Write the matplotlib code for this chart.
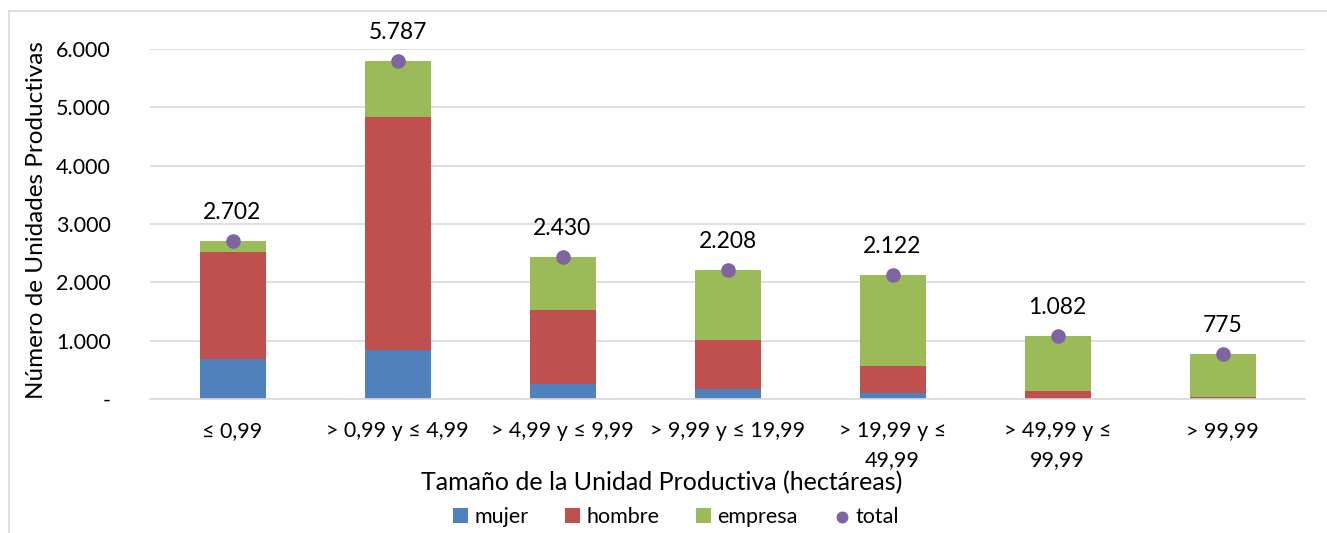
import matplotlib.pyplot as plt
import numpy as np
from matplotlib.lines import Line2D

plt.rcParams['font.family'] = ['Lato', 'DejaVu Sans']

categorias = ["≤ 0,99", "> 0,99 y ≤ 4,99", "> 4,99 y ≤ 9,99", "> 9,99 y ≤ 19,99",
              "> 19,99 y ≤\n49,99", "> 49,99 y ≤\n99,99", "> 99,99"]
mujer = [690, 845, 257, 171, 95, 10, 4]
hombre = [1828, 3990, 1269, 843, 468, 127, 26]
total = [2702, 5787, 2430, 2208, 2122, 1082, 775]
empresa = [t - m - h for t, m, h in zip(total, mujer, hombre)]

c_mujer = "#4F81BD"
c_hombre = "#C0504D"
c_empresa = "#9BBB59"
c_total = "#8064A2"

fig = plt.figure(figsize=(13.27, 5.33), dpi=100)
ax = fig.add_axes([150 / 1327, 1 - 399 / 533, 1155 / 1327, 350 / 533])

x = np.arange(len(categorias))
w = 0.4
b1 = ax.bar(x, mujer, w, color=c_mujer, label="mujer", zorder=2)
b2 = ax.bar(x, hombre, w, bottom=mujer, color=c_hombre, label="hombre", zorder=2)
base = np.array(mujer) + np.array(hombre)
b3 = ax.bar(x, empresa, w, bottom=base, color=c_empresa, label="empresa", zorder=2)
sc = ax.scatter(x, total, s=90, color=c_total, zorder=3, label="total")

for xi, t in zip(x, total):
    ax.annotate(f"{t:,}".replace(",", "."), (xi, t), xytext=(0, 13),
                textcoords="offset points", ha="center", va="bottom", fontsize=16.5)

ax.set_xlim(-0.5, len(categorias) - 0.5)
ax.set_ylim(0, 6000)
ax.set_yticks(range(0, 6001, 1000))
ax.set_yticklabels(["-"] + [f"{v:,}".replace(",", ".") for v in range(1000, 6001, 1000)])
ax.set_xticks(x)
ax.set_xticklabels(categorias, va="top", linespacing=1.55)
ax.tick_params(axis="both", length=0, labelsize=15.5, colors="#000000")
ax.tick_params(axis="y", pad=28)
ax.tick_params(axis="x", pad=16)
ax.grid(axis="y", color="#D9D9D9", linewidth=1.2, zorder=0)
for s in ["top", "right", "left"]:
    ax.spines[s].set_visible(False)
ax.spines["bottom"].set_color("#D9D9D9")
ax.spines["bottom"].set_linewidth(1.2)

ax.set_ylabel("Número de Unidades Productivas", fontsize=17.5)
ax.yaxis.set_label_coords(-0.089, 0.51)
ax.set_xlabel("Tamaño de la Unidad Productiva (hectáreas)", fontsize=18)
ax.xaxis.set_label_coords(0.443, -0.205)

fig.legend([b1, b2, b3, sc], ["mujer", "hombre", "empresa", "total"], loc="center",
           bbox_to_anchor=(676 / 1327, 1 - 517 / 533),
           ncol=4, frameon=False, fontsize=15.5, handlelength=0.7, handleheight=0.7,
           handletextpad=0.3, columnspacing=1.7, markerscale=0.8)

# borde exterior
fig.add_artist(Line2D([9 / 1327, 1], [1 - 11 / 533, 1 - 11 / 533], color="#D9D9D9", lw=1.2))
fig.add_artist(Line2D([9 / 1327, 9 / 1327], [0, 1 - 11 / 533], color="#D9D9D9", lw=1.2))

fig.savefig("out.png", dpi=100)
